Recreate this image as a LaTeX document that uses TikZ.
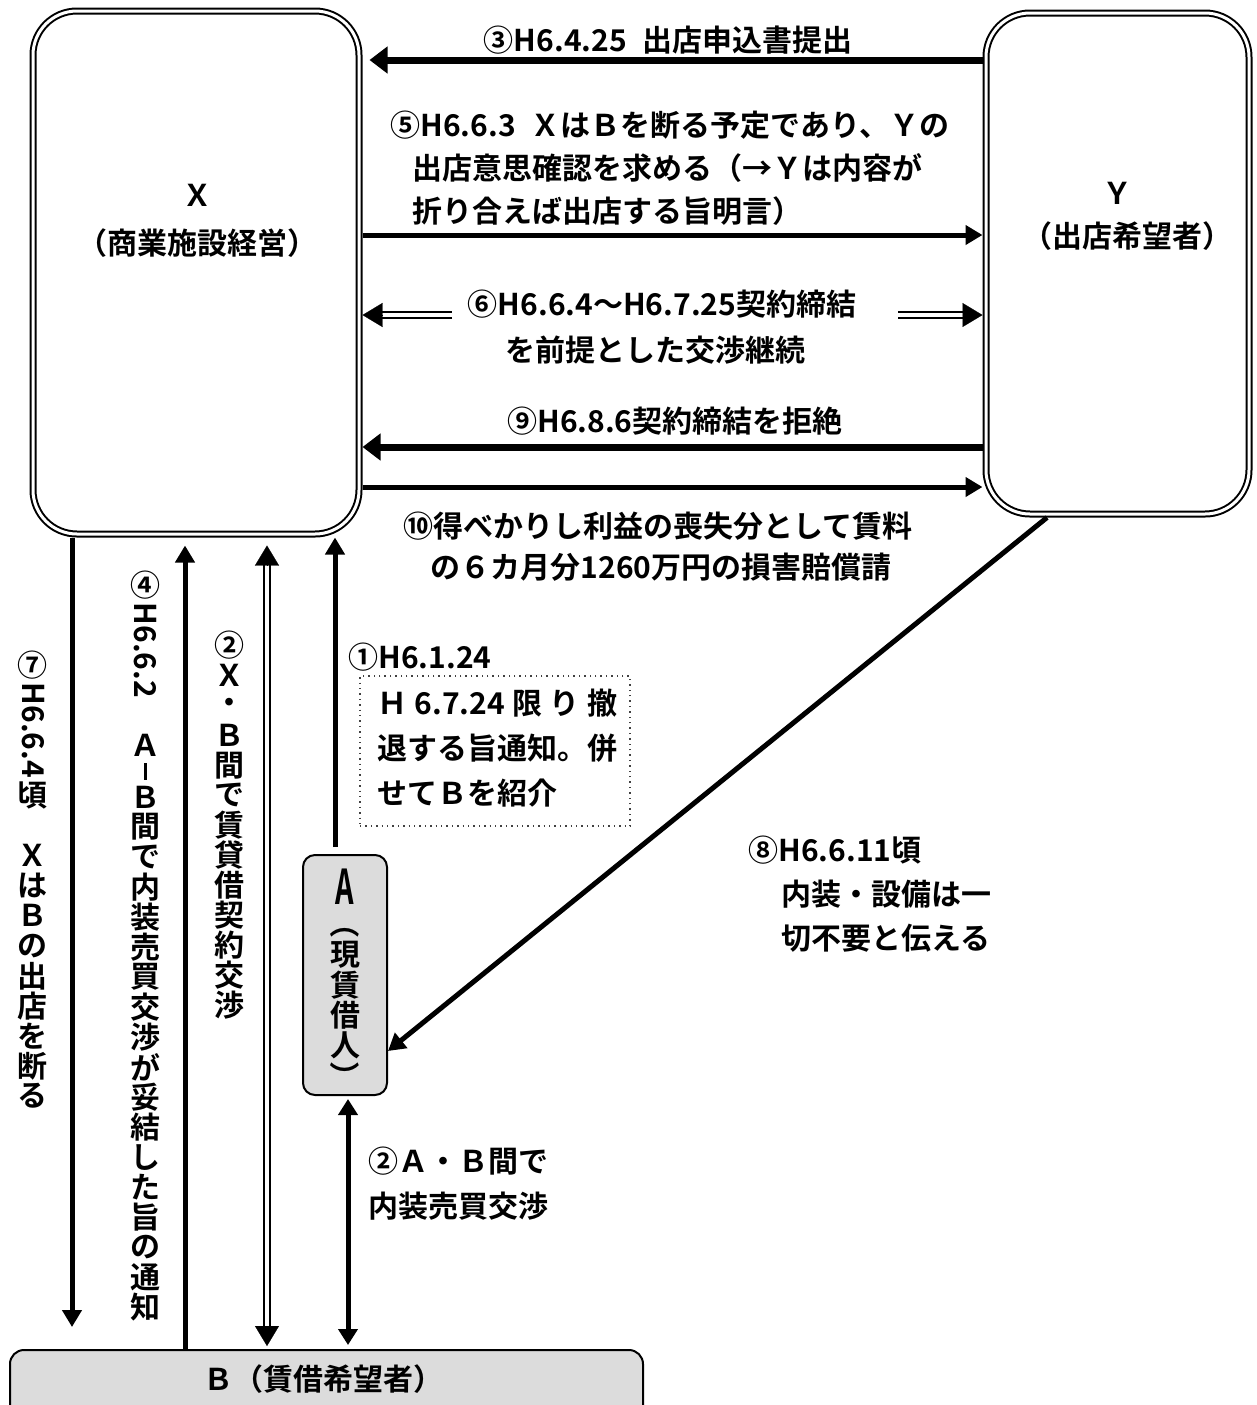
\documentclass[tikz,border=0pt]{standalone}
\usepackage{fontspec}
\usepackage{graphicx}
\setmainfont{Noto Sans CJK JP Bold}
\usetikzlibrary{arrows.meta,calc}
\definecolor{boxgray}{HTML}{DCDCDC}
\newcommand\rot[1]{\rotatebox{-90}{#1}}
\newcommand\vsp{\vrule width 0pt height .85em}
\makeatletter
\let\vt@stop\relax
\def\vt@stopmark{\vt@stop}
\newcommand\vtext[1]{\vbox{\offinterlineskip\vt@loop#1\vt@stop}}
\def\vt@loop#1{\def\vt@arg{#1}\ifx\vt@arg\vt@stopmark\else\vt@cell{#1}\expandafter\vt@loop\fi}
\newcommand\vt@cell[1]{\setbox0\hbox{#1}%
  \ifdim\wd0>.8em
    \vbox to 1em{\vss\hbox to 1.2em{\hss\box0\hss}\vss}%
  \else
    \vbox{\kern.08em\hbox to 1.2em{\hss\box0\hss}\kern.08em}%
  \fi}
\makeatother
\tikzset{
  bigbox/.style={draw, double, line width=1pt, double distance=1.5pt, rounded corners=22pt, inner sep=0pt, outer sep=1.75pt},
  graybox/.style={draw, fill=boxgray, line width=1pt, inner sep=0pt, outer sep=.5pt},
  notebox/.style={draw=black!75, dotted, line width=.7pt, inner sep=0pt},
  arr/.style={line width=2.5pt, -{Triangle[length=8.5pt,width=9.5pt]}},
  harr/.style={line width=3.5pt, -{Triangle[length=9pt,width=13pt]}},
  dline/.style={double, line width=.9pt, double distance=1.8pt},
  dtip/.style={line width=.1pt, -{Triangle[length=10pt,width=12pt]}},
  txt/.style={inner sep=0pt},
}
\begin{document}
\begin{tikzpicture}[x=0.5pt,y=-0.5pt,font=\fontsize{15pt}{20.5pt}\selectfont]
\clip (0,0) rectangle (1257,1405);
\fill[white] (0,0) rectangle (1257,1405);
% boxes
\node[bigbox, minimum width=163pt, minimum height=261.5pt] (X) at (196,272.5) {};
\node[bigbox, minimum width=131.5pt, minimum height=250.5pt] (Y) at (1117.5,263.5) {};
\node[graybox, rounded corners=6pt, minimum width=42pt, minimum height=120pt] (A) at (345,975) {};
\node[graybox, rounded corners=7pt, minimum width=316.5pt, minimum height=40pt] (B) at (326.5,1390) {};
% box texts
\node[txt] (Xn) at (197,195) {Ｘ};
\node[txt] (Xs) at (197,243) {（商業施設経営）};
\node[txt] (Yn) at (1117,193) {Ｙ};
\node[txt] (Ys) at (1127,236) {（出店希望者）};
\node[txt] (Bt) at (323,1379) {Ｂ（賃借希望者）};
\node[txt] (An) at (345,887) {\fontsize{20pt}{20pt}\selectfont\scalebox{.72}[1.2]{A}};
\node[txt] (Av) at (345,1000) {\vbox{\offinterlineskip
  \hbox to 1.2em{\hss\rot{\makebox[.5em][r]{（}}\hss}\kern.05em
  \vtext{現賃借人}\kern.05em
  \hbox to 1.2em{\hss\rot{\makebox[.5em][l]{）}}\hss}}};
% level coordinates
\coordinate (h3) at (0,60);
\coordinate (h5) at (0,235);
\coordinate (h6) at (0,315);
\coordinate (h9) at (0,447);
\coordinate (h10) at (0,487);
\coordinate (h8) at (0,1051);
\coordinate (v7) at (72,0);
\coordinate (v4) at (185,0);
\coordinate (v2) at (267,0);
\coordinate (v1) at (335,0);
\coordinate (vab) at (348,0);
\coordinate (v8) at (1047,0);
\coordinate (d6l) at (452,315);
\coordinate (d6r) at (898,315);
% horizontal connectors
\draw[harr, shorten >=3.5pt] (Y.west |- h3) -- (X.east |- h3);
\draw[arr] (X.east |- h5) -- (Y.west |- h5);
\draw[dline, shorten >=9pt] (d6l) -- (X.east |- h6);
\draw[dtip] ($(X.east |- h6)+(20,0)$) -- (X.east |- h6);
\draw[dline, shorten >=9pt] (d6r) -- (Y.west |- h6);
\draw[dtip] ($(Y.west |- h6)+(-20,0)$) -- (Y.west |- h6);
\draw[harr] (Y.west |- h9) -- (X.east |- h9);
\draw[arr] (X.east |- h10) -- (Y.west |- h10);
% vertical connectors
\draw[arr, shorten >=11pt] (X.south -| v7) -- (B.north -| v7);
\draw[arr, shorten >=4pt] (B.north -| v4) -- (X.south -| v4);
\coordinate (p2t) at ($(X.south -| v2)+(0,8)$);
\coordinate (p2b) at ($(B.north -| v2)+(0,-3)$);
\draw[dline, shorten >=9pt, shorten <=9pt] (p2b) -- (p2t);
\draw[dtip] ($(p2t)+(0,20)$) -- (p2t);
\draw[dtip] ($(p2b)+(0,-20)$) -- (p2b);
\draw[arr, shorten <=3.5pt] (A.north -| v1) -- (X.south -| v1);
\draw[arr, {Triangle[length=8pt,width=9.5pt]}-{Triangle[length=8pt,width=9.5pt]}, shorten <=1.5pt, shorten >=2pt] (A.south -| vab) -- (B.north -| vab);
\draw[arr] (Y.south -| v8) -- (A.east |- h8);
% horizontal labels
\node[txt] (t3) at (668,40) {③H6.4.25\hspace{.5em}出店申込書提出};
\node[txt, anchor=west, align=left, font=\fontsize{15pt}{21.5pt}\selectfont] (t5) at (390,168) {⑤H6.6.3\hspace{.5em}ＸはＢを断る予定であり、Ｙの\\\hspace*{.75em}出店意思確認を求める（→Ｙは内容が\\\hspace*{.75em}折り合えば出店する旨明言）};
\node[txt] (t6a) at (662,304) {⑥H6.6.4～H6.7.25契約締結};
\node[txt] (t6b) at (655,350) {を前提とした交渉継続};
\node[txt] (t9) at (675,421) {⑨H6.8.6契約締結を拒絶};
\node[txt] (t10a) at (658,526) {⑩得べかりし利益の喪失分として賃料};
\node[txt] (t10b) at (661,567) {の６カ月分1260万円の損害賠償請};
\node[txt, anchor=west] (t1) at (348,657) {①H6.1.24};
\node[notebox, minimum width=135pt, minimum height=75pt] (note) at (495,751) {};
\node[txt, anchor=west, align=left, font=\fontsize{15pt}{22.5pt}\selectfont] (notet) at (377,748) {\hbox to 120pt{Ｈ\hfill 6.7.24\hfill 限\hfill り\hfill 撤}\\退する旨通知。併\\せてＢを紹介};
\node[txt, anchor=west, align=left, font=\fontsize{15pt}{22pt}\selectfont] (t8) at (748,894) {⑧H6.6.11頃\\\hspace*{1.1em}内装・設備は一\\\hspace*{1.1em}切不要と伝える};
\node[txt, anchor=west, align=left, font=\fontsize{15pt}{22.5pt}\selectfont] (t2b) at (368,1184) {②Ａ・Ｂ間で\\内装売買交渉};
% vertical labels
\node[txt, anchor=north] (t7) at (33,650) {\vtext{⑦{\rot{H6.6.4}}頃{\vsp}ＸはＢの出店を断る}};
\node[txt, anchor=north] (t4) at (145,570) {\vtext{④{\rot{H6.6.2}}{\vsp}Ａ{\vrule width .1em height .55em}Ｂ間で内装売買交渉が妥結した旨の通知}};
\node[txt, anchor=north] (t2a) at (230,630) {\vtext{②Ｘ・Ｂ間で賃貸借契約交渉}};
\end{tikzpicture}
\end{document}
